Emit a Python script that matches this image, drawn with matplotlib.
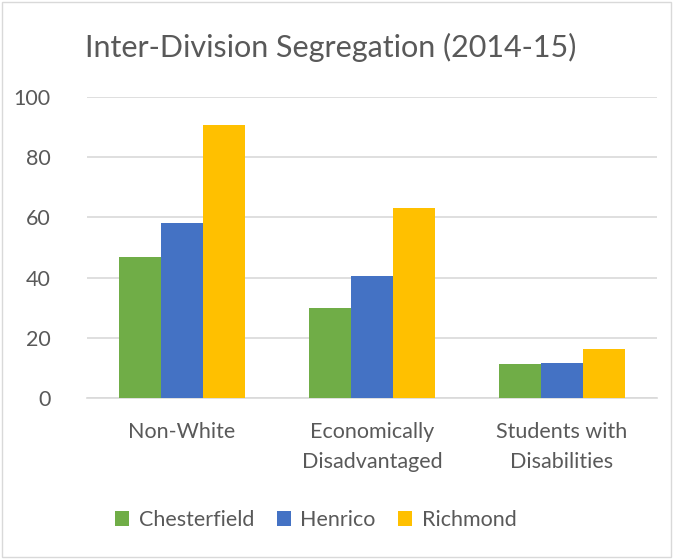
import matplotlib.pyplot as plt
import numpy as np
from matplotlib.patches import Rectangle

plt.rcParams['font.family'] = ['Lato', 'DejaVu Sans']

categories = ["Non-White", "Economically\nDisadvantaged", "Students with\nDisabilities"]
series_names = ["Chesterfield", "Henrico", "Richmond"]
chesterfield = [46.8, 29.9, 11.3]
henrico = [58.1, 40.4, 11.6]
richmond = [90.7, 63.1, 16.3]
colors = ["#70AD47", "#4472C4", "#FFC000"]
text_gray = "#595959"

fig = plt.figure(figsize=(6.74, 5.59), dpi=100)
ax = fig.add_axes([87 / 674, 161 / 559, 570 / 674, 301 / 559])

x = np.arange(len(categories))
width = 0.22
for i, (vals, name) in enumerate(zip([chesterfield, henrico, richmond], series_names)):
    ax.bar(x + (i - 1) * width, vals, width, color=colors[i], label=name, zorder=3)

ax.set_xlim(-0.5, 2.5)
ax.set_ylim(0, 100)
ax.set_yticks(range(0, 101, 20))
ax.yaxis.grid(True, color="#D9D9D9", linewidth=1.2, zorder=0)
for s in ["top", "right", "left"]:
    ax.spines[s].set_visible(False)
ax.spines["bottom"].set_color("#D9D9D9")
ax.spines["bottom"].set_linewidth(1.2)
ax.tick_params(axis="both", length=0, labelsize=15.5, colors=text_gray)
ax.tick_params(axis="y", pad=26)
ax.tick_params(axis="x", pad=17)
ax.set_xticks(x)
ax.set_xticklabels(categories, linespacing=1.65)

fig.text(331 / 674, 1 - 47 / 559, "Inter-Division Segregation (2014-15)",
         ha="center", va="center", fontsize=22, color=text_gray)

fig.legend(loc="center", bbox_to_anchor=(316 / 674, 1 - 520 / 559), ncol=3, frameon=False,
           fontsize=15.5, labelcolor=text_gray, handlelength=0.65, handleheight=0.65,
           handletextpad=0.45, columnspacing=1.05)

fig.patches.append(Rectangle((2 / 674, 2 / 559), 669 / 674, 555 / 559, transform=fig.transFigure,
                             fill=False, edgecolor="#D9D9D9", linewidth=1))

fig.savefig("out.png", dpi=100)
